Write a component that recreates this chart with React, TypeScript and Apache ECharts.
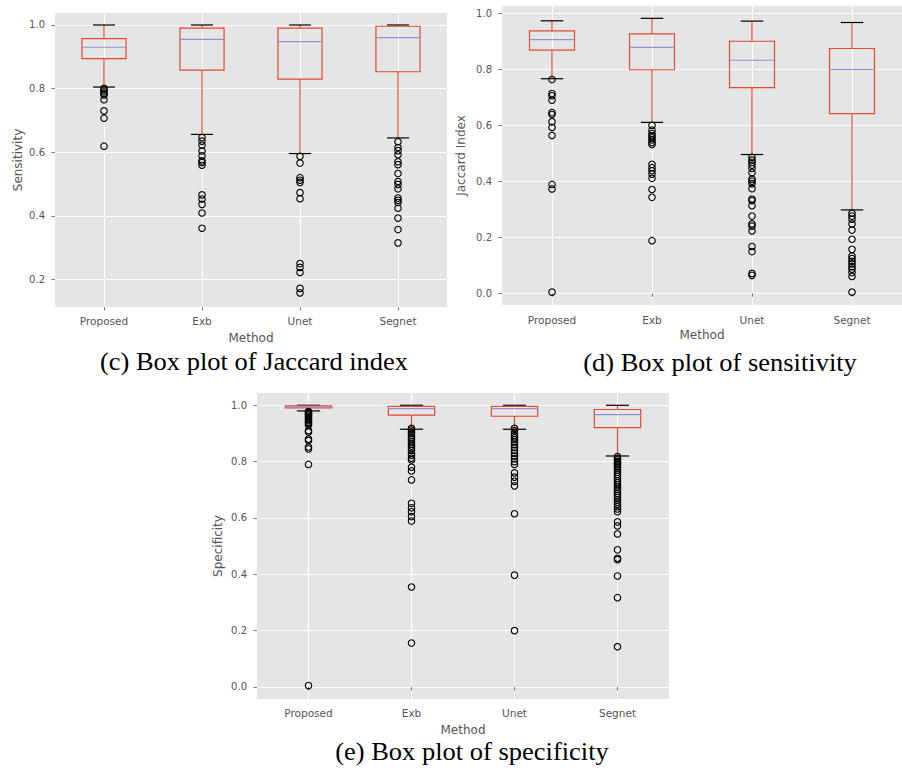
import React, { useEffect, useRef } from "react";
import * as echarts from "echarts";

const categories = ["Proposed", "Exb", "Unet", "Segnet"];
const yTicksC = [0.2, 0.4, 0.6, 0.8, 1.0];
const yTicksD = [0.0, 0.2, 0.4, 0.6, 0.8, 1.0];
const yTicksE = [0.0, 0.2, 0.4, 0.6, 0.8, 1.0];

// Box stats per method: [lower whisker, Q1, median, Q3, upper whisker]
const jaccardBoxes = [
  [0.805, 0.894, 0.93, 0.957, 1.0],
  [0.656, 0.858, 0.955, 0.99, 1.0],
  [0.596, 0.83, 0.948, 0.99, 1.0],
  [0.645, 0.853, 0.96, 0.996, 1.0],
];
const jaccardOutliers = [
  [0.801, 0.796, 0.79, 0.785, 0.78, 0.765, 0.73, 0.707, 0.619],
  [0.646, 0.635, 0.622, 0.604, 0.589, 0.573, 0.568, 0.559, 0.466, 0.453, 0.436, 0.409, 0.361],
  [0.587, 0.566, 0.52, 0.512, 0.505, 0.473, 0.454, 0.25, 0.238, 0.222, 0.172, 0.158],
  [0.633, 0.615, 0.605, 0.592, 0.57, 0.561, 0.533, 0.508, 0.499, 0.485, 0.456, 0.449, 0.442, 0.424, 0.393, 0.357, 0.315],
];

const sensitivityBoxes = [
  [0.767, 0.869, 0.907, 0.938, 0.974],
  [0.611, 0.799, 0.879, 0.927, 0.983],
  [0.496, 0.735, 0.833, 0.901, 0.973],
  [0.298, 0.642, 0.8, 0.875, 0.968],
];
const sensitivityOutliers = [
  [0.764, 0.714, 0.706, 0.69, 0.646, 0.639, 0.613, 0.593, 0.564, 0.389, 0.373, 0.004],
  [0.6, 0.583, 0.571, 0.563, 0.556, 0.548, 0.539, 0.532, 0.461, 0.449, 0.438, 0.426, 0.411, 0.371, 0.343, 0.188],
  [0.486, 0.476, 0.468, 0.458, 0.446, 0.431, 0.408, 0.401, 0.392, 0.374, 0.337, 0.331, 0.313, 0.276, 0.248, 0.24, 0.223, 0.167, 0.149, 0.071, 0.064],
  [0.286, 0.276, 0.265, 0.248, 0.226, 0.193, 0.157, 0.133, 0.124, 0.114, 0.105, 0.095, 0.086, 0.074, 0.06, 0.004],
];

const specificityBoxes = [
  [0.98, 0.991, 0.994, 0.998, 1.0],
  [0.915, 0.965, 0.988, 0.996, 1.0],
  [0.915, 0.961, 0.988, 0.996, 1.0],
  [0.82, 0.921, 0.967, 0.985, 1.0],
];
const specificityOutliers = [
  [0.978, 0.975, 0.972, 0.968, 0.965, 0.96, 0.955, 0.95, 0.945, 0.94, 0.935, 0.93, 0.91, 0.905, 0.88, 0.875, 0.852, 0.845, 0.79, 0.005],
  [0.918, 0.912, 0.905, 0.9, 0.893, 0.885, 0.878, 0.87, 0.862, 0.855, 0.848, 0.84, 0.83, 0.822, 0.812, 0.806, 0.78, 0.767, 0.735, 0.652, 0.636, 0.622, 0.605, 0.589, 0.355, 0.156],
  [0.918, 0.91, 0.9, 0.892, 0.885, 0.878, 0.87, 0.86, 0.85, 0.84, 0.83, 0.82, 0.81, 0.8, 0.79, 0.76, 0.745, 0.73, 0.714, 0.615, 0.397, 0.2],
  [0.818, 0.812, 0.806, 0.8, 0.795, 0.79, 0.784, 0.778, 0.77, 0.762, 0.755, 0.748, 0.74, 0.732, 0.725, 0.718, 0.71, 0.702, 0.695, 0.687, 0.68, 0.672, 0.664, 0.656, 0.648, 0.64, 0.632, 0.622, 0.586, 0.572, 0.543, 0.487, 0.457, 0.452, 0.394, 0.317, 0.143],
];

const yLabels = ["Sensitivity", "Jaccard Index", "Specificity"];
const captions = ["(c) Box plot of Jaccard index", "(d) Box plot of sensitivity", "(e) Box plot of specificity"];
const xLabel = "Method";

const RED = "#E24A33";
const MEDIAN = "#988ED5";
const GRAY_TEXT = "#555555";
const BG = "#E5E5E5";
const SANS = "DejaVu Sans";

const panels = [
  { boxes: jaccardBoxes, outliers: jaccardOutliers, ticks: yTicksC, min: 0.1135, max: 1.0377,
    grid: { left: 55, top: 13, width: 392, height: 294 }, labelMargin: 8, nameGap: 25, yNameGap: 31,
    caption: { x: 254, y: 362 } },
  { boxes: sensitivityBoxes, outliers: sensitivityOutliers, ticks: yTicksD, min: -0.042, max: 1.027,
    grid: { left: 502, top: 6, width: 400, height: 299 }, labelMargin: 9, nameGap: 24, yNameGap: 35,
    caption: { x: 720, y: 363 } },
  { boxes: specificityBoxes, outliers: specificityOutliers, ticks: yTicksE, min: -0.0426, max: 1.0436,
    grid: { left: 257, top: 393, width: 412, height: 306 }, labelMargin: 8, nameGap: 25, yNameGap: 33,
    caption: { x: 472, y: 752 } },
];

const renderBox = (params: any, api: any) => {
  const x = api.value(0);
  const low = api.coord([x, api.value(1)]);
  const q1 = api.coord([x, api.value(2)]);
  const med = api.coord([x, api.value(3)]);
  const q3 = api.coord([x, api.value(4)]);
  const high = api.coord([x, api.value(5)]);
  const band = api.size([1, 0])[0];
  const bw = band * 0.45;
  const cw = bw / 2;
  const cx = q1[0];
  const lw = 1.2;
  return {
    type: "group",
    children: [
      { type: "line", shape: { x1: cx, y1: q3[1], x2: cx, y2: high[1] }, style: { stroke: RED, lineWidth: lw } },
      { type: "line", shape: { x1: cx, y1: q1[1], x2: cx, y2: low[1] }, style: { stroke: RED, lineWidth: lw } },
      { type: "line", shape: { x1: cx - cw / 2, y1: high[1], x2: cx + cw / 2, y2: high[1] }, style: { stroke: "#000", lineWidth: lw } },
      { type: "line", shape: { x1: cx - cw / 2, y1: low[1], x2: cx + cw / 2, y2: low[1] }, style: { stroke: "#000", lineWidth: lw } },
      { type: "rect", shape: { x: cx - bw / 2, y: q3[1], width: bw, height: q1[1] - q3[1] }, style: { fill: "none", stroke: RED, lineWidth: lw } },
      { type: "line", shape: { x1: cx - bw / 2, y1: med[1], x2: cx + bw / 2, y2: med[1] }, style: { stroke: MEDIAN, lineWidth: lw } },
    ],
  };
};

export default function App() {
  const ref = useRef<HTMLDivElement>(null);
  useEffect(() => {
    if (!ref.current) return;
    const chart = echarts.init(ref.current, null, { renderer: "svg" });
    const grids: any[] = [];
    const xAxes: any[] = [];
    const yAxes: any[] = [];
    const series: any[] = [];
    const graphics: any[] = [];
    panels.forEach((p, i) => {
      grids.push({ ...p.grid, show: true, backgroundColor: BG, borderWidth: 0, containLabel: false });
      xAxes.push({
        type: "category", gridIndex: i, data: categories,
        name: xLabel, nameLocation: "middle", nameGap: p.nameGap,
        nameTextStyle: { color: GRAY_TEXT, fontSize: 12, fontFamily: SANS },
        axisLine: { show: false },
        axisTick: { show: true, alignWithLabel: true, length: 3.5, inside: false, lineStyle: { color: GRAY_TEXT, width: 0.8 } },
        axisLabel: { color: GRAY_TEXT, fontSize: 10.5, fontFamily: SANS, margin: p.labelMargin },
        splitLine: { show: true, alignWithLabel: true, lineStyle: { color: "#ffffff", width: 1 } },
      });
      yAxes.push({
        type: "value", gridIndex: i, min: p.min, max: p.max,
        name: yLabels[i], nameLocation: "middle", nameGap: p.yNameGap, nameRotate: 90,
        nameTextStyle: { color: GRAY_TEXT, fontSize: 12, fontFamily: SANS },
        axisLine: { show: false },
        axisTick: { show: true, length: 3.5, customValues: p.ticks, lineStyle: { color: GRAY_TEXT, width: 0.8 } },
        axisLabel: { color: GRAY_TEXT, fontSize: 10, fontFamily: SANS, margin: 10, customValues: p.ticks,
          formatter: (v: number) => v.toFixed(1) },
        splitLine: { show: true, lineStyle: { color: "#ffffff", width: 1 } },
      });
      series.push({
        type: "custom", xAxisIndex: i, yAxisIndex: i, renderItem: renderBox,
        encode: { x: 0, y: [1, 2, 3, 4, 5] },
        data: p.boxes.map((b, k) => [k, ...b]),
        z: 3,
      });
      const pts: number[][] = [];
      p.outliers.forEach((arr, k) => arr.forEach((v) => pts.push([k, v])));
      series.push({
        type: "scatter", xAxisIndex: i, yAxisIndex: i, data: pts,
        symbol: "circle", symbolSize: 6.5,
        itemStyle: { color: "transparent", borderColor: "#000", borderWidth: 1.1, opacity: 1 },
        z: 4,
      });
      graphics.push({
        type: "text", x: p.caption.x, y: p.caption.y, scaleX: 1.06,
        style: { text: captions[i], fontFamily: "Liberation Serif", fontSize: 25, fill: "#000",
          textAlign: "center", textVerticalAlign: "middle" },
      });
    });
    chart.setOption({
      animation: false,
      backgroundColor: "#ffffff",
      grid: grids, xAxis: xAxes, yAxis: yAxes, series, graphic: graphics,
    });
    return () => chart.dispose();
  }, []);
  return <div ref={ref} style={{ position: "absolute", left: 0, top: 0, width: 902, height: 770 }} />;
}
